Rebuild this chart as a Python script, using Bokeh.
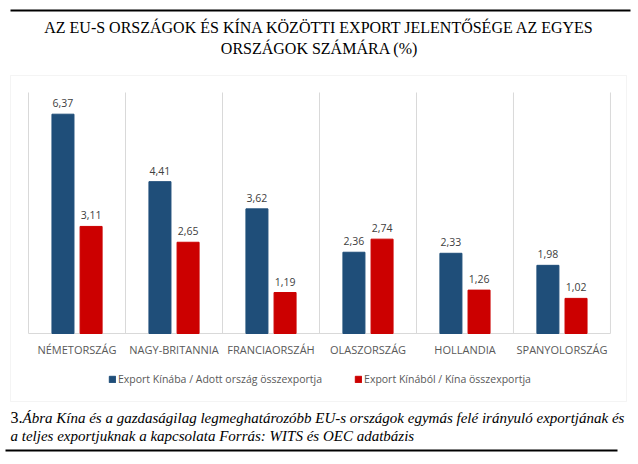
from bokeh.plotting import figure
from bokeh.models import (ColumnDataSource, LabelSet, Label, Legend, LegendItem,
                          BoxAnnotation, FactorRange, Range1d)
from bokeh.core.properties import value
from bokeh.transform import dodge
from bokeh.embed import file_html
from bokeh.resources import INLINE

# ---- data ----
categories = ["NÉMETORSZÁG", "NAGY-BRITANNIA", "FRANCIAORSZÁH",
              "OLASZORSZÁG", "HOLLANDIA", "SPANYOLORSZÁG"]
export_to_china = [6.37, 4.41, 3.62, 2.36, 2.33, 1.98]
export_from_china = [3.11, 2.65, 1.19, 2.74, 1.26, 1.02]
series_names = ["Export Kínába / Adott ország összexportja",
                "Export Kínából / Kína összexportja"]
title_lines = ["AZ EU-S ORSZÁGOK ÉS KÍNA KÖZÖTTI EXPORT JELENTŐSÉGE AZ EGYES",
               "ORSZÁGOK SZÁMÁRA (%)"]
caption_num = "3."
caption_lines = ["Ábra Kína és a gazdaságilag legmeghatározóbb EU-s országok egymás felé irányuló exportjának és",
                 "a teljes exportjuknak a kapcsolata Forrás: WITS és OEC adatbázis"]
y_max = 7

BLUE = "#1F4E79"
RED = "#CC0000"
GRID = "#D9D9D9"
LABEL_GRAY = "#595959"

def fmt(v):
    return f"{v:.2f}".replace(".", ",")

src = ColumnDataSource(dict(
    cat=categories,
    a=export_to_china,
    b=export_from_china,
    a_lbl=[fmt(v) for v in export_to_china],
    b_lbl=[fmt(v) for v in export_from_china],
    zero=[0] * len(categories),
))

# frame covers the whole canvas; plot area is set by range padding
W, H = 638, 464
PX_PER_UNIT_Y = 241 / y_max
BASE_FROM_BOTTOM = 131
TOP_ABOVE = 92
x_range = FactorRange(*categories, range_padding=0.289, range_padding_units="absolute")
y_range = Range1d(-BASE_FROM_BOTTOM / PX_PER_UNIT_Y, y_max + TOP_ABOVE / PX_PER_UNIT_Y)

p = figure(width=W, height=H, x_range=x_range, y_range=y_range, title=None,
           output_backend="svg", toolbar_location=None,
           min_border=0, min_border_left=0, min_border_right=0,
           min_border_top=0, min_border_bottom=0)
p.outline_line_color = None
p.grid.grid_line_color = None
p.axis.visible = False

# category separators and baseline
nb = len(categories)
p.segment(x0=list(range(nb + 1)), x1=list(range(nb + 1)), y0=[0] * (nb + 1),
          y1=[y_max] * (nb + 1), line_color=GRID, line_width=1)
p.segment(x0=[0], x1=[nb], y0=[0], y1=[0], line_color=GRID, line_width=1)

ra = p.vbar(x=dodge("cat", -0.145, range=p.x_range), top="a", width=0.227,
            source=src, color=BLUE)
rb = p.vbar(x=dodge("cat", 0.145, range=p.x_range), top="b", width=0.227,
            source=src, color=RED)

for col, lbl, off in (("a", "a_lbl", -0.145), ("b", "b_lbl", 0.145)):
    p.add_layout(LabelSet(x=dodge("cat", off, range=p.x_range), y=col, text=lbl,
                          source=src, text_align="center", text_baseline="bottom",
                          y_offset=7, text_font=value("Open Sans"),
                          text_font_size="10.5px", text_color="#404040"))

# category labels
p.add_layout(LabelSet(x="cat", y="zero", text="cat", source=src,
                      text_align="center", text_baseline="middle", y_offset=-16,
                      text_font=value("Open Sans"), text_font_size="11px",
                      text_color=LABEL_GRAY))

legend = Legend(items=[LegendItem(label=series_names[0], renderers=[ra]),
                       LegendItem(label=series_names[1], renderers=[rb])],
                orientation="horizontal", location=(108, 78),
                label_text_font="Open Sans", label_text_font_size="10.5px",
                label_text_color=LABEL_GRAY, glyph_width=8, glyph_height=8,
                label_standoff=2, spacing=32, padding=2, margin=0,
                border_line_color=None, background_fill_alpha=0)
p.add_layout(legend, "center")

def canvas_label(text, x, y, **kw):
    p.add_layout(Label(text=text, x=x, y=y, x_units="canvas", y_units="canvas", **kw))

canvas_label(title_lines[0], 319, 27, text_align="center", text_baseline="middle",
             text_font="Liberation Serif", text_font_size="16px", text_color="#000000")
canvas_label(title_lines[1], 319, 48, text_align="center", text_baseline="middle",
             text_font="Liberation Serif", text_font_size="16px", text_color="#000000")
canvas_label(caption_num, 10, 417, text_align="left", text_baseline="alphabetic",
             text_font="Liberation Serif", text_font_size="16px", text_color="#000000")
canvas_label(caption_lines[0], 22, 417, text_align="left", text_baseline="alphabetic",
             text_font="Liberation Serif", text_font_size="15px", text_font_style="italic",
             text_color="#000000")
canvas_label(caption_lines[1], 10, 435, text_align="left", text_baseline="alphabetic",
             text_font="Liberation Serif", text_font_size="15px", text_font_style="italic",
             text_color="#000000")

# decorative lines / frame box
p.add_layout(BoxAnnotation(left=10, right=626, top=75, bottom=401,
                           left_units="canvas", right_units="canvas",
                           top_units="canvas", bottom_units="canvas",
                           fill_alpha=0, line_color=GRID, line_width=1))
p.add_layout(BoxAnnotation(left=10, right=630, top=9, bottom=11,
                           left_units="canvas", right_units="canvas",
                           top_units="canvas", bottom_units="canvas",
                           fill_color="#000000", fill_alpha=1, line_alpha=0))
p.add_layout(BoxAnnotation(left=5, right=617, top=449, bottom=451,
                           left_units="canvas", right_units="canvas",
                           top_units="canvas", bottom_units="canvas",
                           fill_color="#000000", fill_alpha=1, line_alpha=0))

open("out.html", "w").write(file_html(p, INLINE))
